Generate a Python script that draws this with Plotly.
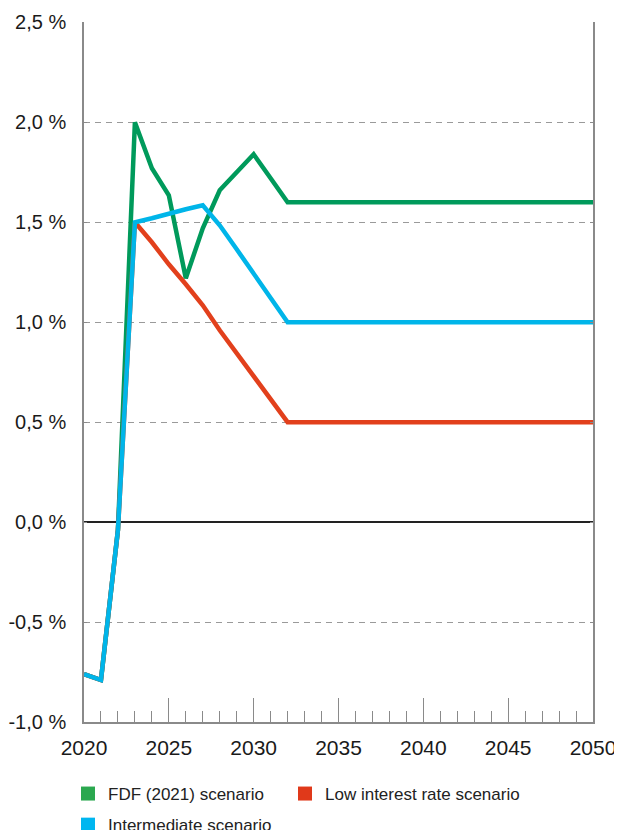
import plotly.graph_objects as go

years = list(range(2020, 2051))

fdf_2021 = [-0.76, -0.79, -0.04, 2.00, 1.77, 1.635, 1.22, 1.47, 1.66, 1.75, 1.84, 1.72, 1.60] + [1.60] * 18
low_rate = [-0.76, -0.79, -0.04, 1.50, 1.40, 1.29, 1.19, 1.085, 0.96, 0.845, 0.73, 0.615, 0.50] + [0.50] * 18
intermediate = [-0.76, -0.79, -0.04, 1.50, 1.52, 1.545, 1.565, 1.585, 1.485, 1.365, 1.24, 1.12, 1.00] + [1.00] * 18

series_names = ["FDF (2021) scenario", "Low interest rate scenario", "Intermediate scenario"]
line_colors = ["#009a5b", "#e2401c", "#00b5e9"]
legend_colors = ["#2ba84f", "#e0391a", "#00b6f0"]
legend_ids = ["legend", "legend2", "legend"]

y_tickvals = [-1.0, -0.5, 0.0, 0.5, 1.0, 1.5, 2.0, 2.5]
y_ticktext = ["-1,0 %", "-0,5 %", "0,0 %", "0,5 %", "1,0 %", "1,5 %", "2,0 %", "2,5 %"]
x_tickvals = [2020, 2025, 2030, 2035, 2040, 2045, 2050]
x_ticktext = ["2020", "2025", "2030", "2035", "2040", "2045", "2050"]

FIG_W, FIG_H = 614, 822

fig = go.Figure()
for name, vals, col in zip(series_names, [fdf_2021, low_rate, intermediate], line_colors):
    fig.add_trace(go.Scatter(x=years, y=vals, mode="lines", name=name,
                             line=dict(color=col, width=4.5), showlegend=False,
                             hoverinfo="skip"))
for name, col, lg in zip(series_names, legend_colors, legend_ids):
    fig.add_trace(go.Scatter(x=[None], y=[None], mode="markers", name=name,
                             marker=dict(symbol="square", size=14, color=col),
                             showlegend=True, legend=lg, legendgroup=name))

axis_gray = "#8a8a8a"
legend_font = dict(size=17, color="#222", family="Liberation Sans, Arial, sans-serif")
fig.update_layout(
    width=FIG_W, height=FIG_H,
    margin=dict(l=76, r=29, t=14, b=108, autoexpand=False),
    paper_bgcolor="white", plot_bgcolor="white",
    font=dict(family="Liberation Sans, Arial, sans-serif", color="#1a1a1a"),
    showlegend=True,
    legend=dict(orientation="v", xref="container", yref="container",
                x=60 / FIG_W, xanchor="left", y=1 - 768 / FIG_H, yanchor="top",
                font=legend_font, itemwidth=30, bgcolor="rgba(0,0,0,0)",
                tracegroupgap=6),
    legend2=dict(orientation="v", xref="container", yref="container",
                 x=277 / FIG_W, xanchor="left", y=1 - 768 / FIG_H, yanchor="top",
                 font=legend_font, itemwidth=30, bgcolor="rgba(0,0,0,0)"),
)
fig.update_xaxes(
    range=[2020, 2050], showgrid=False, zeroline=False, automargin=False,
    showline=True, linecolor=axis_gray, linewidth=1.5, mirror=False,
    tickvals=x_tickvals, ticktext=x_ticktext,
    ticks="inside", ticklen=24, tickwidth=1, tickcolor=axis_gray,
    minor=dict(ticks="inside", ticklen=11, dtick=1, tick0=2020, tickwidth=1, tickcolor=axis_gray, showgrid=False),
    tickfont=dict(size=21, color="#1a1a1a"), ticklabelstandoff=6,
)
fig.update_yaxes(
    range=[-1.0, 2.502], tickvals=y_tickvals, ticktext=y_ticktext, automargin=False,
    showgrid=True, gridcolor="#9a9a9a", gridwidth=1, griddash="6px,5px",
    zeroline=True, zerolinecolor="#222", zerolinewidth=1.5,
    showline=True, linecolor=axis_gray, linewidth=1.5, mirror="ticks",
    ticks="inside", ticklen=3, tickcolor=axis_gray,
    tickfont=dict(size=20, color="#1a1a1a"), ticklabelstandoff=12,
)

fig.write_html("out.html")
